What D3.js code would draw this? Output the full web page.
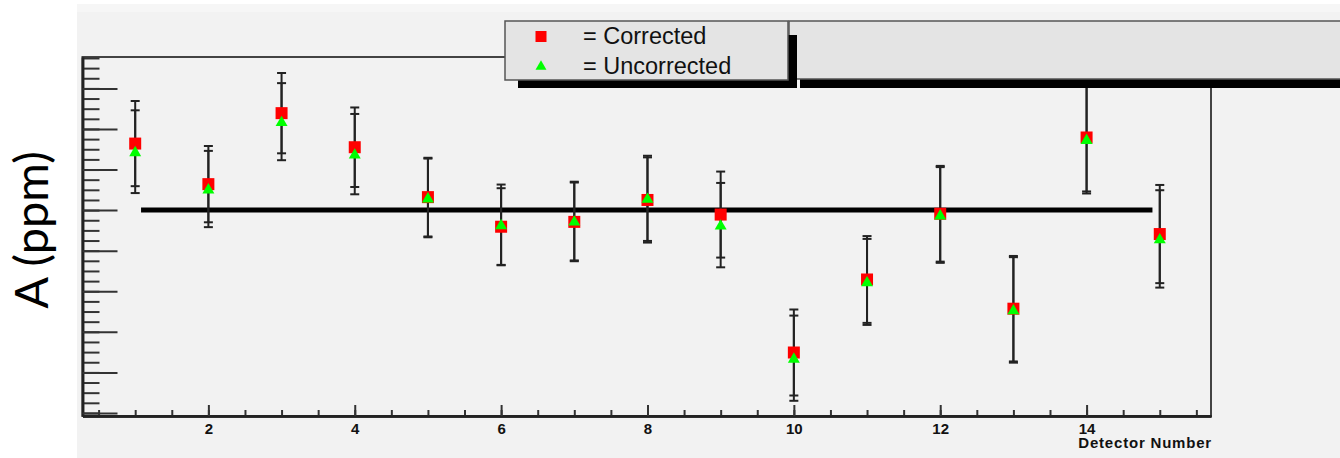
<!DOCTYPE html>
<html>
<head>
<meta charset="utf-8">
<script src="https://cdnjs.cloudflare.com/ajax/libs/d3/7.8.5/d3.min.js"></script>
<style>
	body { margin: 0; background: #fff; }
	svg { display: block; }
</style>
</head>
<body>
<div id="chart-area"></div>
<script>
// data (y in arbitrary units, one major tick = 1)
var detectors = [1, 2, 3, 4, 5, 6, 7, 8, 9, 10, 11, 12, 13, 14, 15];
var corrected = [1.64, 0.64, 2.39, 1.55, 0.32, -0.41, -0.29, 0.25, -0.11, -3.51, -1.71, -0.09, -2.43, 1.79, -0.59];
var correctedErr = [1.05, 0.94, 0.99, 0.98, 0.97, 0.95, 0.97, 1.05, 1.06, 1.06, 1.07, 1.18, 1.30, 1.33, 1.21];
var uncorrected = [1.44, 0.52, 2.18, 1.38, 0.30, -0.36, -0.27, 0.29, -0.37, -3.65, -1.77, -0.12, -2.46, 1.74, -0.71];
var uncorrectedErr = [1.02, 0.94, 0.95, 0.99, 0.97, 0.99, 0.97, 1.05, 1.04, 1.05, 1.06, 1.18, 1.30, 1.33, 1.20];
var fitValue = 0;
var fitRange = [1.08, 14.9];
var xTickLabels = [2, 4, 6, 8, 10, 12, 14];
var legendLabels = ["= Corrected", "= Uncorrected"];

var margin = {left: 82.5, top: 57, right: 129, bottom: 42};
var width = 1340 - margin.left - margin.right;
var height = 458 - margin.top - margin.bottom;

var svg = d3.select("#chart-area")
	.append("svg")
		.attr("width", 1340)
		.attr("height", 458);

//pad background
svg.append("rect")
	.attr("x", 77).attr("y", 4)
	.attr("width", 1263).attr("height", 454)
	.attr("fill", "#f2f2f2");
svg.append("rect")
	.attr("x", 77).attr("y", 4)
	.attr("width", 1263).attr("height", 8)
	.attr("fill", "#f6f6f6");

var canvas = svg.append("g")
	.attr("transform", "translate(" +margin.left+ ", " +margin.top+ ")");

//scales
var x = d3.scaleLinear()
	.domain([0.28, 15.7])
	.range([0, width]);

var y = d3.scaleLinear()
	.domain([-5.075, 3.774])
	.range([height, 0]);

//frame
canvas.append("rect")
	.attr("width", width)
	.attr("height", height)
	.attr("fill", "none")
	.attr("stroke", "#444")
	.attr("stroke-width", 2);

//y axis, minor then major, no labels
canvas.append("g")
	.attr("class", "y axis minor")
	.call(d3.axisLeft(y)
		.tickValues(d3.range(-20, 16).map(function(d){ return d/4; }))
		.tickSizeInner(-17).tickSizeOuter(0)
		.tickFormat(""));

canvas.append("g")
	.attr("class", "y axis major")
	.call(d3.axisLeft(y)
		.tickValues(d3.range(-5, 4))
		.tickSizeInner(-35).tickSizeOuter(0)
		.tickFormat(""));

//x axis
canvas.append("g")
	.attr("class", "x axis minor")
	.attr("transform", "translate(0, " +height+ ")")
	.call(d3.axisBottom(x)
		.tickValues(d3.range(1, 32).map(function(d){ return d/2; }))
		.tickSizeInner(-6).tickSizeOuter(0)
		.tickFormat(""));

canvas.append("g")
	.attr("class", "x axis major")
	.attr("transform", "translate(0, " +height+ ")")
	.call(d3.axisBottom(x)
		.tickValues(xTickLabels)
		.tickSizeInner(-11).tickSizeOuter(0)
		.tickPadding(7)
		.tickFormat(function(d){ return +d; }));

canvas.selectAll(".axis .tick line")
	.attr("stroke", "#333")
	.attr("stroke-width", 2);
canvas.selectAll(".axis .domain")
	.attr("stroke", "#222")
	.attr("stroke-width", 2.5);
canvas.selectAll(".x.axis text")
	.attr("fill", "#111")
	.attr("font-family", "'Liberation Sans', Arial, sans-serif")
	.attr("font-weight", "bold")
	.attr("font-size", 15);

//x label
canvas.append("text")
	.attr("x", width + 1)
	.attr("y", height + 32)
	.attr("text-anchor", "end")
	.attr("font-family", "'Liberation Sans', Arial, sans-serif")
	.attr("font-weight", "bold")
	.attr("font-size", 15)
	.attr("letter-spacing", 0.8)
	.attr("fill", "#111")
	.text("Detector Number");

//y label
svg.append("text")
	.attr("transform", "translate(48, 230) rotate(-90)")
	.attr("text-anchor", "middle")
	.attr("font-family", "Lato, 'Open Sans', sans-serif")
	.attr("font-size", 47)
	.attr("fill", "#000")
	.text("A (ppm)");

//fit line
canvas.append("line")
	.attr("x1", x(fitRange[0]))
	.attr("x2", x(fitRange[1]))
	.attr("y1", y(fitValue))
	.attr("y2", y(fitValue))
	.attr("stroke", "#000")
	.attr("stroke-width", 5);

//error bars
function errorBars(vals, errs) {
	var g = canvas.append("g");
	detectors.forEach(function(d, i){
		var cx = x(d), lo = y(vals[i] - errs[i]), hi = y(vals[i] + errs[i]);
		g.append("line")
			.attr("x1", cx).attr("x2", cx)
			.attr("y1", lo).attr("y2", hi)
			.attr("stroke", "#222").attr("stroke-width", 2);
		[lo, hi].forEach(function(cy){
			g.append("line")
				.attr("x1", cx - 4.5).attr("x2", cx + 4.5)
				.attr("y1", cy).attr("y2", cy)
				.attr("stroke", "#222").attr("stroke-width", 2);
		});
	});
}
errorBars(corrected, correctedErr);
errorBars(uncorrected, uncorrectedErr);

//markers
var square = d3.symbol().type(d3.symbolSquare).size(144);
var triangle = d3.symbol().type(d3.symbolTriangle).size(62);

canvas.selectAll("path.corr")
	.data(detectors)
	.enter().append("path")
		.attr("class", "corr")
		.attr("d", square)
		.attr("fill", "#ff0000")
		.attr("transform", function(d, i){ return "translate(" +x(d)+ ", " +y(corrected[i])+ ")"; });

canvas.selectAll("path.uncorr")
	.data(detectors)
	.enter().append("path")
		.attr("class", "uncorr")
		.attr("d", triangle)
		.attr("fill", "#00ff00")
		.attr("transform", function(d, i){ return "translate(" +x(d)+ ", " +(y(uncorrected[i]) + 1)+ ")"; });

//title box (empty) and legend, each with a shadow
svg.append("rect")
	.attr("x", 800).attr("y", 35).attr("width", 560).attr("height", 53)
	.attr("fill", "#000");
svg.append("rect")
	.attr("x", 789).attr("y", 21).attr("width", 580).attr("height", 58)
	.attr("fill", "#e4e4e4")
	.attr("stroke", "#555").attr("stroke-width", 1.5);

svg.append("rect")
	.attr("x", 518).attr("y", 35).attr("width", 279).attr("height", 53)
	.attr("fill", "#000");
svg.append("rect")
	.attr("x", 505).attr("y", 21).attr("width", 283).attr("height", 59)
	.attr("fill", "#e4e4e4")
	.attr("stroke", "#555").attr("stroke-width", 1.5);

var legend = svg.append("g")
	.attr("transform", "translate(541, 36.5)");

legendLabels.forEach(function(label, i){
	var row = legend.append("g")
		.attr("transform", "translate(0, " +(i*30)+ ")");
	row.append("path")
		.attr("d", i == 0 ? d3.symbol().type(d3.symbolSquare).size(121)() : d3.symbol().type(d3.symbolTriangle).size(52)())
		.attr("fill", i == 0 ? "#ff0000" : "#00ff00");
	row.append("text")
		.attr("x", 42)
		.attr("y", 7)
		.attr("font-family", "'Liberation Sans', Arial, sans-serif")
		.attr("font-size", 23.5)
		.attr("fill", "#111")
		.text(label);
});
</script>
</body>
</html>
